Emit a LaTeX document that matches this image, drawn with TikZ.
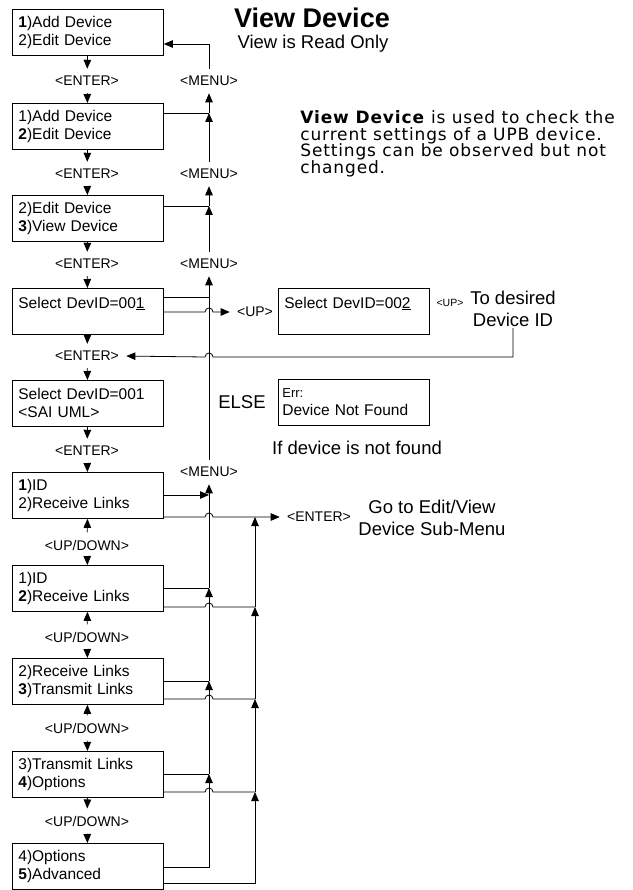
\documentclass[tikz,border=0pt]{standalone}
\usepackage{fontspec}
\setmainfont{Liberation Sans}
\newfontfamily\descfont[LetterSpace=5]{DejaVu Sans}
\newcommand\descsize{\descfont\fontsize{17}{16.5}\selectfont\lineskiplimit -20pt\relax}
\usetikzlibrary{arrows.meta,positioning,calc}

\tikzset{
  menubox/.style={draw, anchor=north west, minimum height=46pt, text width=139pt, inner xsep=6pt, inner ysep=4pt, align=left, font=\fontsize{15.5}{18}\selectfont},
  keylbl/.style={inner xsep=2pt, inner ysep=7pt, font=\fontsize{14}{16}\selectfont},
  note/.style={align=center, inner sep=1pt, font=\fontsize{18.5}{22}\selectfont},
  arr/.style={-{Triangle[length=9pt,width=7.5pt]}},
  gap/.style={shorten >=5pt},
}

\begin{document}
\begin{tikzpicture}[x=1pt, y=-1pt, line width=0.8pt]
  \useasboundingbox (0,0) rectangle (632,890);
  % Title and description
  \node[font=\fontsize{27}{30}\selectfont\bfseries] (title) at (312,18) {View Device};
  \node[font=\fontsize{18.5}{22}\selectfont] (readonly) at (313,44) {View is Read Only};
  \node[anchor=west, align=left, inner sep=0pt, font=\descsize] (desc) at (300,144) {\textbf{View Device} is used to check the\\current settings of a UPB device.\\Settings can be observed but not\\changed.};
  % Menu screens
  \node[menubox] (b1) at (12,9) {\textbf{1})Add Device\\2)Edit Device};
  \node[menubox] (b2) at (12,103) {1)Add Device\\\textbf{2})Edit Device};
  \node[menubox] (b3) at (12,195) {2)Edit Device\\\textbf{3})View Device};
  \node[menubox] (b4) at (12,288) {Select DevID=00\underline{1}\\\mbox{}};
  \node[menubox] (b5) at (12,380) {Select DevID=001\\<SAI UML>};
  \node[menubox] (b6) at (12,472) {\textbf{1})ID\\2)Receive Links};
  \node[menubox] (b7) at (12,565) {1)ID\\\textbf{2})Receive Links};
  \node[menubox] (b8) at (12,658) {2)Receive Links\\\textbf{3})Transmit Links};
  \node[menubox] (b9) at (12,751) {3)Transmit Links\\\textbf{4})Options};
  \node[menubox] (b10) at (12,843) {4)Options\\\textbf{5})Advanced};
  % Key labels
  \node[keylbl] (e1) at (87,81) {<ENTER>};
  \node[keylbl] (e2) at (87,174) {<ENTER>};
  \node[keylbl] (e3) at (87,264) {<ENTER>};
  \node[keylbl] (e4) at (87,356) {<ENTER>};
  \node[keylbl] (e5) at (87,451) {<ENTER>};
  \node[keylbl] (u1) at (87,545) {<UP/DOWN>};
  \node[keylbl] (u2) at (87,637) {<UP/DOWN>};
  \node[keylbl] (u3) at (87,728) {<UP/DOWN>};
  \node[keylbl] (u4) at (87,821) {<UP/DOWN>};
  \node[keylbl] (m1) at (209,81) {<MENU>};
  \node[keylbl] (m2) at (209,174) {<MENU>};
  \node[keylbl] (m3) at (209,264) {<MENU>};
  \node[keylbl] (m4) at (209,472) {<MENU>};
  \node[keylbl] (up1) at (255,312) {<UP>};
  \node[keylbl] (e6) at (319,517) {<ENTER>};
  % Device ID side
  \node[menubox] (b4r) at (278,288) {Select DevID=00\underline{2}\\\mbox{}};
  \node[keylbl, font=\fontsize{10.5}{12}\selectfont] (up2) at (450,303) {<UP>};
  \node[note] (todev) at (513,309) {To desired\\Device ID};
  \node[menubox, inner xsep=4pt, text width=143pt] (err) at (278,379) {{\fontsize{13}{18}\selectfont Err:}\\Device Not Found};
  \node[note] (else) at (242,402) {ELSE};
  \node[note] (notfound) at (357,448) {If device is not found};
  \node[note] (goto) at (432,518) {Go to Edit/View\\Device Sub-Menu};
  % Forward arrows
  \draw[arr] (b1) -- (e1);
  \draw[arr] (e1) -- (b2);
  \draw[arr] (b2) -- (e2);
  \draw[arr] (e2) -- (b3);
  \draw[arr] (b3) -- (e3);
  \draw[arr] (e3) -- (b4);
  \draw[arr] (b4) -- (e4);
  \draw[arr] (e4) -- (b5);
  \draw[arr] (b5) -- (e5);
  \draw[arr] (e5) -- (b6);
  \draw[arr] (u1) -- (b6);
  \draw[arr] (u1) -- (b7);
  \draw[arr] (u2) -- (b7);
  \draw[arr] (u2) -- (b8);
  \draw[arr] (u3) -- (b8);
  \draw[arr] (u3) -- (b9);
  \draw[arr] (b9) -- (u4);
  \draw[arr] (u4) -- (b10);
  % MENU returns
  \draw[arr] (m1.north) |- (b1.east |- 0,44);
  \draw (b2.east |- 0,113) -- (209,113);
  \draw[arr] (m2.north) -- (209,113);
  \draw[arr] (209,113) -- (m1.south);
  \draw (b3.east |- 0,206) -- (209,206);
  \draw[arr] (m3.north) -- (209,206);
  \draw[arr] (209,206) -- (m2.south);
  \draw (b4.east |- 0,297) -- (209,297);
  \draw[arr] (m4.north) -- (m3.south);
  \draw[arr] (b6.east |- 0,495) -- (209,495);
  \draw (b7.east |- 0,588) -- (209,588);
  \draw (b8.east |- 0,681) -- (209,681);
  \draw (b9.east |- 0,774) -- (209,774);
  \draw[arr] (209,588) -- (m4.south);
  \draw[arr] (209,681) -- (209,588);
  \draw[arr] (209,774) -- (209,681);
  \draw[arr] (b10.east |- 0,867) -- (209,867) -- (209,774);
  % UP to next device ID and back
  \draw[arr, gap] (b4.east |- 0,312) -- (205,312) arc[start angle=180, end angle=0, radius=4pt] -- (up1.west);
  \draw[arr, gap] (todev.south) |- (213,357) arc[start angle=0, end angle=180, radius=4pt] -- (e4.east);
  % ENTER to sub-menu
  \draw[arr, gap] (b6.east |- 0,517) -- (205,517) arc[start angle=180, end angle=0, radius=4pt] -- (e6.west);
  \draw (b7.east |- 0,607) -- (205,607) arc[start angle=180, end angle=0, radius=4pt] -- (255,607);
  \draw (b8.east |- 0,699) -- (205,699) arc[start angle=180, end angle=0, radius=4pt] -- (255,699);
  \draw (b9.east |- 0,792) -- (205,792) arc[start angle=180, end angle=0, radius=4pt] -- (255,792);
  \draw[arr] (255,607) -- (255,517);
  \draw[arr] (255,699) -- (255,607);
  \draw[arr] (255,792) -- (255,699);
  \draw[arr] (b10.east |- 0,883) -- (255,883) -- (255,792);
\end{tikzpicture}
\end{document}
